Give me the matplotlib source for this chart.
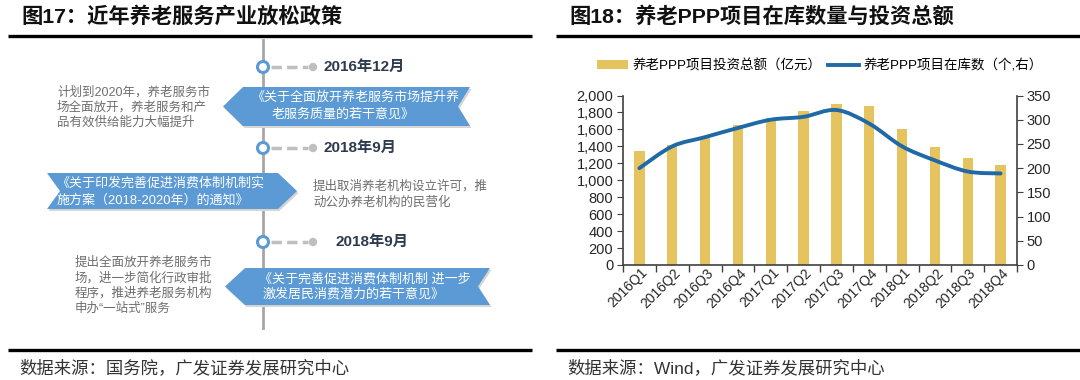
import numpy as np
import matplotlib
matplotlib.use("Agg")
import matplotlib.pyplot as plt
from matplotlib.patches import Polygon, Circle, Patch, PathPatch
from matplotlib.lines import Line2D
from matplotlib.path import Path
from matplotlib.transforms import ScaledTranslation

plt.rcParams['font.family'] = ['Liberation Sans', 'Noto Sans CJK SC', 'DejaVu Sans']

# right chart data
quarters = ['2016Q1', '2016Q2', '2016Q3', '2016Q4', '2017Q1', '2017Q2',
            '2017Q3', '2017Q4', '2018Q1', '2018Q2', '2018Q3', '2018Q4']
invest = [1345, 1411, 1505, 1650, 1740, 1818, 1895, 1880, 1602, 1397, 1257, 1179]   # 亿元
projects = [200, 245, 264, 283, 300, 306, 320, 292, 245, 216, 193, 189]            # 个
left_ticks = list(range(0, 2001, 200))
right_ticks = list(range(0, 351, 50))

# left panel texts
dates = ['2016年12月', '2018年9月', '2018年9月']
banner_lines = [['《关于全面放开养老服务市场提升养', '老服务质量的若干意见》'],
                ['《关于印发完善促进消费体制机制实', '施方案（2018-2020年）的通知》'],
                ['《关于完善促进消费体制机制 进一步', '激发居民消费潜力的若干意见》']]
notes = [['计划到2020年，养老服务市', '场全面放开，养老服务和产', '品有效供给能力大幅提升'],
         ['提出取消养老机构设立许可，推', '动公办养老机构的民营化'],
         ['提出全面放开养老服务市', '场，进一步简化行政审批', '程序，推进养老服务机构', '申办“一站式”服务']]

BAR_C = '#E5C35E'
LINE_C = '#1F69A6'
BANNER_C = '#5B9AD4'
GRAY_T = '#6E6E6E'
DATE_C = '#2E3B4E'

fig = plt.figure(figsize=(10.8, 3.8), dpi=100)

# background axes in pixel coords (y down)
bg = fig.add_axes([0, 0, 1, 1])
bg.set_xlim(0, 1080)
bg.set_ylim(380, 0)
bg.axis('off')

# titles, rules, sources
bg.text(21, 16, '图17：近年养老服务产业放松政策', fontsize=15.3, fontweight='bold',
        va='center', ha='left', color='#111111')
bg.text(569, 16, '图18：养老PPP项目在库数量与投资总额', fontsize=15.3, fontweight='bold',
        va='center', ha='left', color='#111111')
for x0, x1 in [(8, 532), (556, 1080)]:
    bg.plot([x0, x1], [36, 36], color='black', lw=2.4, solid_capstyle='butt')
    bg.plot([x0, x1], [350, 350], color='black', lw=2.4, solid_capstyle='butt')
bg.text(19, 368, '数据来源：国务院，广发证券发展研究中心', fontsize=12.5,
        va='center', ha='left', color='#333333')
bg.text(567, 368, '数据来源：Wind，广发证券发展研究中心', fontsize=12.5,
        va='center', ha='left', color='#333333')

# timeline
bg.plot([263, 263], [40, 328], color='#A6A6A6', lw=2, zorder=1)
circle_y = [67, 148, 242]
date_x = [323, 323, 336]
for cy, dx, d in zip(circle_y, date_x, dates):
    bg.plot([271, 308], [cy, cy], color='#BFBFBF', lw=2.5, ls=(0, (3, 1.5)), zorder=2)
    bg.add_patch(Circle((313, cy), 3.5, color='#BFBFBF', zorder=3))
    bg.add_patch(Circle((263, cy), 5.5, facecolor='white', edgecolor=BANNER_C, lw=2.2, zorder=3))
    bg.text(dx, cy, d, fontsize=11, fontweight='bold', color=DATE_C, va='center', ha='left')

# banners
banners = [
    [(223, 106.5), (243, 87), (470, 87), (458, 106.5), (470, 126), (243, 126)],
    [(47, 173), (278, 173), (297, 191), (278, 209), (47, 209), (60, 191)],
    [(225, 286.5), (245, 268), (490, 268), (478, 286.5), (490, 305), (245, 305)],
]
for pts in banners:
    shadow = [(x + 1.5, y + 2) for x, y in pts]
    bg.add_patch(Polygon(shadow, closed=True, facecolor='#D5D5D5', edgecolor='none', zorder=4))
    bg.add_patch(Polygon(pts, closed=True, facecolor=BANNER_C, edgecolor='none', zorder=5))

bkw = dict(fontsize=9.4, color='white', va='center', zorder=6)
bg.text(355, 98, banner_lines[0][0], ha='center', **bkw)
bg.text(343, 114, banner_lines[0][1], ha='center', **bkw)
bg.text(56, 183, banner_lines[1][0], ha='left', **bkw)
bg.text(57, 200, banner_lines[1][1], ha='left', **bkw)
bg.text(365, 279.5, banner_lines[2][0], ha='center', **bkw)
bg.text(354, 294.5, banner_lines[2][1], ha='center', **bkw)

nkw = dict(fontsize=9, color=GRAY_T, va='center', ha='left')
for i, s in enumerate(notes[0]):
    bg.text(57, 92 + i * 15.5, s, **nkw)
for i, s in enumerate(notes[1]):
    bg.text(313, 186 + i * 16, s, **nkw)
for i, s in enumerate(notes[2]):
    bg.text(75, 263 + i * 15.3, s, **nkw)

# right chart
ax = fig.add_axes([623 / 1080, (380 - 265) / 380, 394 / 1080, 169.5 / 380])
x = np.arange(len(quarters))
ax.bar(x, invest, width=0.31, color=BAR_C, zorder=2)
ax.set_xlim(-0.5, len(quarters) - 0.5)
ax.set_ylim(0, 2000)
ax.set_yticks(left_ticks)
ax.set_yticklabels([f'{v:,}' for v in left_ticks])
ax.set_xticks(x)
ax.set_xticklabels(quarters, rotation=45, ha='right', va='center', rotation_mode='anchor')
ax.set_xticks(np.arange(-0.5, len(quarters)), minor=True)
ax.tick_params(axis='x', which='major', length=0, pad=4, labelsize=10, labelcolor='#262626')
ax.tick_params(axis='x', which='minor', length=5, direction='out', color='#404040', width=1)
ax.tick_params(axis='y', length=4, direction='out', color='#404040', labelsize=10.5,
               labelcolor='#262626', pad=3)
off = ScaledTranslation(6 / 100, 0, fig.dpi_scale_trans)
for lab in ax.get_xticklabels():
    lab.set_transform(lab.get_transform() + off)
for side in ['top', 'right']:
    ax.spines[side].set_visible(False)
for side in ['left', 'bottom']:
    ax.spines[side].set_color('#404040')
    ax.spines[side].set_linewidth(1.2)

ax2 = ax.twinx()
ax2.set_ylim(0, 350)
ax2.set_yticks(right_ticks)
ax2.tick_params(axis='y', length=4, direction='out', color='#404040', labelsize=10.5,
                labelcolor='#262626', pad=3)
for side in ['top', 'left', 'bottom']:
    ax2.spines[side].set_visible(False)
ax2.spines['right'].set_color('#404040')
ax2.spines['right'].set_linewidth(1.2)

# smoothed line (Catmull-Rom -> cubic Bezier through the data points)
pts = np.column_stack([x, projects]).astype(float)
verts = [pts[0]]
codes = [Path.MOVETO]
n = len(pts)
for i in range(n - 1):
    p0 = pts[max(i - 1, 0)]
    p1 = pts[i]
    p2 = pts[i + 1]
    p3 = pts[min(i + 2, n - 1)]
    c1 = p1 + (p2 - p0) / 6.0
    c2 = p2 - (p3 - p1) / 6.0
    verts += [c1, c2, p2]
    codes += [Path.CURVE4] * 3
ax2.add_patch(PathPatch(Path(verts, codes), facecolor='none', edgecolor=LINE_C,
                        lw=2.8, capstyle='round', zorder=3))

handles = [Patch(facecolor=BAR_C, edgecolor='none'),
           Line2D([0], [0], color=LINE_C, lw=2.8)]
labels = ['养老PPP项目投资总额（亿元）', '养老PPP项目在库数（个,右）']
ax2.legend(handles, labels, loc='center', bbox_to_anchor=(0.5, 1.175), ncol=2,
           frameon=False, fontsize=9.7, handlelength=2.3, handleheight=0.6,
           handletextpad=0.3, columnspacing=0.5, borderaxespad=0)

fig.savefig('out.png', dpi=100)
